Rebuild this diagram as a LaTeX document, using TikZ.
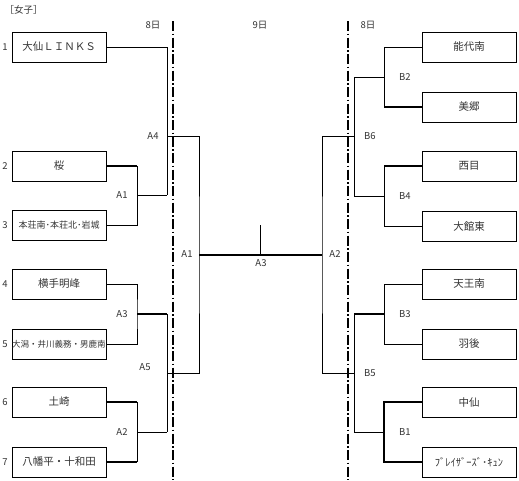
\documentclass[tikz,border=0pt]{standalone}
\usepackage{fontspec}
\setmainfont{Noto Sans CJK JP}
\tikzset{team/.style={draw, line width=0.8pt, minimum width=94pt, minimum height=30pt, inner sep=0pt, font=\fontsize{10.5}{12}\selectfont, text=black!80},
	win/.style={line width=1.8pt},
	lbl/.style={font=\fontsize{9.5}{11}\selectfont, text=black!80},
	day/.style={line width=1.6pt, dash pattern=on 10pt off 2.5pt on 1.5pt off 2.5pt}}

\begin{document}
\begin{tikzpicture}[x=1pt, y=-1pt, line width=0.7pt]
	\useasboundingbox (0,0) rectangle (519,480);
	% days
	\draw [day] (173,21) -- (173,480);
	\draw [day] (348,21) -- (348,480);
	\node [lbl, anchor=west] at (1,10) {［女子］};
	\node [lbl] at (153,25) {8日};
	\node [lbl] at (260,25) {9日};
	\node [lbl] at (368,25) {8日};
	% teams
	\foreach \n/\y/\name in {1/47/大仙ＬＩＮＫＳ, 2/166/桜, 3/225/{\fontsize{9}{10}\selectfont 本荘南･本荘北･岩城}, 4/284/横手明峰, 5/344/{\fontsize{8.5}{10}\selectfont 大潟・井川義務・男鹿南}, 6/402/土崎, 7/462/八幡平・十和田}
	{
		\node [team] (L\n) at (59,\y) {\name};
		\node [lbl] at (5,\y) {\n};
	}
	\foreach \n/\y/\name in {1/47/能代南, 2/107/美郷, 3/166/西目, 4/226/大館東, 5/284/天王南, 6/344/羽後, 7/402/中仙, 8/462/ﾌﾞﾚｲｻﾞｰｽﾞ･ｷｭﾝ}
	\node [team] (R\n) at (469,\y) {\name};
	% joins
	\coordinate (A1) at (137,195);
	\coordinate (A3) at (137,314);
	\coordinate (A2) at (137,432);
	\coordinate (A4) at (167,136);
	\coordinate (A5) at (167,373);
	\coordinate (SA) at (199,255);
	\coordinate (SB) at (322,255);
	\coordinate (B2) at (384,77);
	\coordinate (B4) at (384,196);
	\coordinate (B3) at (384,314);
	\coordinate (B1) at (384,432);
	\coordinate (B6) at (354,136);
	\coordinate (B5) at (354,373);
	\coordinate (F) at (260,255);
	% left
	\draw [win] (L2.east) -- (L2.east -| A1);
	\draw (L2.east -| A1) |- (L3.east);
	\draw (A1) -- (A1 -| A4);
	\draw (L1.east) -| (A1 -| A4);
	\draw (A4) -| (SA) |- (A5);
	\draw (L4.east) -| (A3) |- (L5.east);
	\draw [win] (A3) -- (A3 -| A5);
	\draw (A3 -| A5) -- (A2 -| A5);
	\draw (A2) -- (A2 -| A5);
	\draw [win] (L6.east) -- (L6.east -| A2);
	\draw [win] (L7.east) -- (L7.east -| A2);
	\draw (L6.east -| A2) -- (L7.east -| A2);
	% final
	\draw [win] (SA) -- (SB);
	\draw (F) -- ++(0,-30);
	% right
	\draw (R1.west) -| (R2.west -| B2);
	\draw [win] (R2.west) -- (R2.west -| B2);
	\draw (B2) -- (B2 -| B6);
	\draw [win] (R3.west) -- (R3.west -| B4);
	\draw (R3.west -| B4) |- (R4.west);
	\draw (B4) -- (B4 -| B6);
	\draw (B2 -| B6) -- (B4 -| B6);
	\draw (B6) -| (SB) |- (B5);
	\draw (R5.west) -| (R6.west -| B3) -- (R6.west);
	\draw [win] (B3) -- (B3 -| B5);
	\draw (B3 -| B5) -- (B1 -| B5);
	\draw (B1) -- (B1 -| B5);
	\draw [win] (R7.west) -| (R8.west -| B1) -- (R8.west);
	% labels
	\node [lbl] at (122,195) {A1};
	\node [lbl] at (122,314) {A3};
	\node [lbl] at (122,432) {A2};
	\node [lbl] at (153,136) {A4};
	\node [lbl] at (145,367) {A5};
	\node [lbl] at (187,254) {A1};
	\node [lbl] at (335,254) {A2};
	\node [lbl] at (261,263) {A3};
	\node [lbl] at (405,77) {B2};
	\node [lbl] at (405,196) {B4};
	\node [lbl] at (405,314) {B3};
	\node [lbl] at (405,432) {B1};
	\node [lbl] at (370,136) {B6};
	\node [lbl] at (370,373) {B5};
\end{tikzpicture}
\end{document}
